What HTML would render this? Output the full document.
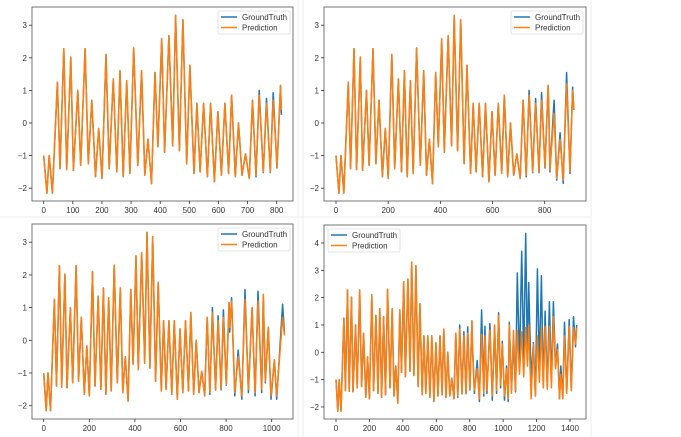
<!DOCTYPE html>
<html><head><meta charset="utf-8">
<style>
html,body{margin:0;padding:0;background:#fff;}
svg{display:block;font-family:"Liberation Sans","DejaVu Sans",sans-serif;}
</style></head>
<body>
<svg id="chart" width="681" height="437" viewBox="0 0 681 437" xmlns="http://www.w3.org/2000/svg">
  <line x1="298" y1="0" x2="298" y2="437" stroke="#ececec" stroke-width="1"/>
  <line x1="303" y1="0" x2="303" y2="437" stroke="#ececec" stroke-width="1"/>
  <line x1="591" y1="0" x2="591" y2="437" stroke="#ececec" stroke-width="1"/>
  <line x1="0" y1="217" x2="591" y2="217" stroke="#ececec" stroke-width="1"/>
</svg>
<script>
// shared series vertices (time index, value)
const baseIdx = [0,11,19,30,47,56,69,79,93,102,117,127,142,153,165,178,189,200,214,225,239,251,262,273,285,296,309,323,336,347,358,370,382,392,405,415,430,443,453,466,478,491,502,516,526,537,549,562,573,586,598,610,622,635,645,658,669,681,693,706];
const baseVal = [-1,-2.15,-1.0,-2.15,1.25,-1.4,2.28,-1.43,2.02,-1.45,1.0,-1.3,2.28,-1.25,0.7,-1.65,-0.17,-1.7,2.1,-1.4,1.35,-1.5,1.6,-1.65,1.3,-1.55,2.3,-1.3,1.6,-1.6,-0.5,-1.86,1.55,-0.73,2.58,-0.9,2.68,-0.7,3.3,-0.85,3.17,-1.25,1.77,-1.55,0.6,-1.5,0.6,-1.65,0.6,-1.8,0.35,-1.6,0.6,-1.55,0.85,-1.65,0,-1.6,-0.95,-1.7];
// shared tail 717..816
const tailIdx = [717,729,740,754,765,778,788,801,813,816];
const tailGT = [0.7,-1.65,1.0,-1.52,0.75,-1.52,0.93,-1.38,1.15,0.25];
const tailPred = [0.7,-1.6,0.85,-1.5,0.6,-1.5,0.7,-1.35,1.15,0.4];
// panel 2 extension
const p2Idx = [820,836,846,859,871,884,897,907,912];
const p2GT = [-1.5,0.7,-1.75,-0.3,-1.85,1.55,-1.55,1.1,0.4];
const p2Pred = [-1.45,0.3,-1.7,-0.5,-1.75,1.2,-1.5,1.0,0.4];
// panel 3 extension
const p3Idx = [824,838,853,869,883,898,914,927,940,956,963,972,985,997,1012,1022,1048,1056];
const p3GT = [1.3,-1.7,-0.3,-1.8,1.55,-1.6,1.0,-1.7,1.5,-1.6,1.4,-1.3,0.4,-1.8,-0.6,-1.8,1.1,0.2];
const p3Pred = [1.2,-1.6,-0.5,-1.7,1.25,-1.5,1.0,-1.6,1.2,-1.5,1.4,-1.25,0.4,-1.7,-0.6,-1.7,0.7,0.15];
// panel 4 extension
const p4Idx = [828,845,858,871,884,891,903,921,935,949,961,973,985,995,1008,1020,1030,1037,1050,1062,1074,1085,1098,1111,1123,1135,1145,1153,1167,1181,1193,1205,1217,1229,1240,1251,1264,1277,1289,1301,1313,1325,1337,1345,1357,1367,1380,1395,1408,1421,1433,1440];
const p4GT = [-1.5,-0.3,-1.8,1.55,-1.6,0.95,-1.5,1.05,-1.75,0.95,-1.5,1.45,-1.3,0.4,-1.75,-0.5,-1.8,1.1,-1.4,0.5,-1.45,2.9,-0.5,3.7,-0.3,4.35,-0.3,2.55,-1.0,0.35,-1.6,3.05,-0.6,2.8,-1.3,1.5,-1.3,1.85,-1.1,1.85,-0.5,0.3,-1.7,-0.5,-1.7,1.1,-1.5,1.2,-1.4,1.3,0.2,1.0];
const p4Pred = [-1.4,-0.6,-1.7,0.65,-1.5,0.6,-1.4,0.8,-1.6,1.0,-1.4,1.35,-1.2,0.3,-1.6,-0.6,-1.7,1.0,-1.5,0.8,-1.4,0.8,-0.8,0.75,-0.9,0.9,-0.5,1.0,-1.7,0.3,-1.6,0.6,-1.1,0.9,-1.3,0.95,-1.35,0.95,-1.3,1.3,-0.6,0.1,-1.7,-0.8,-1.7,0.6,-1.5,0.95,-1.4,0.9,0.3,0.9];
// tick labels
const ticksP1 = [0,100,200,300,400,500,600,700,800];
const ticksP2 = [0,200,400,600,800];
const ticksP3 = [0,200,400,600,800,1000];
const ticksP4 = [0,200,400,600,800,1000,1200,1400];
const yTicksA = [-2,-1,0,1,2,3];
const yTicksB = [-2,-1,0,1,2,3,4];

const svg = document.getElementById('chart');
const NS = 'http://www.w3.org/2000/svg';
function mk(tag, attrs, parent){const e=document.createElementNS(NS,tag);for(const k in attrs)e.setAttribute(k,attrs[k]);parent.appendChild(e);return e;}

const panels = [
 {name:'panel-1', box:[32,7,293,201], x0:43.7, xUnit:0.29125, y0:123, yUnit:32.6, xt:ticksP1, yt:yTicksA, extI:[], extG:[], extP:[], legend:'right'},
 {name:'panel-2', box:[324,7,586,201], x0:336, xUnit:0.26088, y0:123, yUnit:32.6, xt:ticksP2, yt:yTicksA, extI:p2Idx, extG:p2GT, extP:p2Pred, legend:'right'},
 {name:'panel-3', box:[32,224,293,419], x0:43.7, xUnit:0.228, y0:340.3, yUnit:32.7, xt:ticksP3, yt:yTicksA, extI:p3Idx, extG:p3GT, extP:p3Pred, legend:'right'},
 {name:'panel-4', box:[324,225,586,419], x0:336, xUnit:0.16714, y0:352.3, yUnit:27.33, xt:ticksP4, yt:yTicksB, extI:p4Idx, extG:p4GT, extP:p4Pred, legend:'left'}
];

panels.forEach(p=>{
  const g = mk('g',{},svg);
  
  
  const [l,t,r,b] = p.box;
  const X = i => p.x0 + i*p.xUnit;
  const Y = v => p.y0 - v*p.yUnit;
  // series
  const idx = baseIdx.concat(tailIdx, p.extI);
  const gt = baseVal.concat(tailGT, p.extG);
  const pr = baseVal.concat(tailPred, p.extP);
  const pts = arr => idx.map((i,k)=>X(i).toFixed(1)+','+Y(arr[k]).toFixed(1)).join(' ');
  const clip = mk('clipPath',{id:'clip-'+p.name},g);
  mk('rect',{x:l,y:t,width:r-l,height:b-t},clip);
  const l1 = mk('polyline',{points:pts(gt),fill:'none',stroke:'#1f77b4','stroke-width':1.5,'stroke-linejoin':'round','clip-path':'url(#clip-'+p.name+')'},g);
  
  
  const l2 = mk('polyline',{points:pts(pr),fill:'none',stroke:'#ff7f0e','stroke-width':1.5,'stroke-linejoin':'round','clip-path':'url(#clip-'+p.name+')'},g);
  
  
  // frame
  const fr = mk('rect',{x:l,y:t,width:r-l,height:b-t,fill:'none',stroke:'#555','stroke-width':0.8},g);
  
  
  // x ticks
  p.xt.forEach(v=>{
    const x = X(v);
    mk('line',{x1:x,y1:b,x2:x,y2:b+3,stroke:'#333','stroke-width':0.8},g);
    const tx = mk('text',{x:x,y:b+12,'font-size':8,'text-anchor':'middle',fill:'#333'},g);
    tx.textContent = v;
    
    
  });
  p.yt.forEach(v=>{
    const y = Y(v);
    mk('line',{x1:l-3,y1:y,x2:l,y2:y,stroke:'#333','stroke-width':0.8},g);
    const ty = mk('text',{x:l-5,y:y+3,'font-size':8,'text-anchor':'end',fill:'#333'},g);
    ty.textContent = v<0 ? '\u2212'+Math.abs(v) : v;
    
    
  });
  // legend
  const lx = p.legend==='right' ? r-75 : l+4;
  const ly = t+4;
  const lg = mk('g',{},g);
  
  
  mk('rect',{x:lx,y:ly,width:72,height:23,fill:'#fff','fill-opacity':0.85,stroke:'#ddd','stroke-width':0.8,rx:2},lg);
  [['GroundTruth','#1f77b4'],['Prediction','#ff7f0e']].forEach((e,k)=>{
    const yy = ly+6+k*10.5;
    const eg = mk('g',{},lg);
    
    
    mk('line',{x1:lx+3,y1:yy,x2:lx+19,y2:yy,stroke:e[1],'stroke-width':1.5},eg);
    const tt = mk('text',{x:lx+24,y:yy+3,'font-size':8,fill:'#333'},eg);
    tt.textContent = e[0];
  });
});
</script>
</body></html>
